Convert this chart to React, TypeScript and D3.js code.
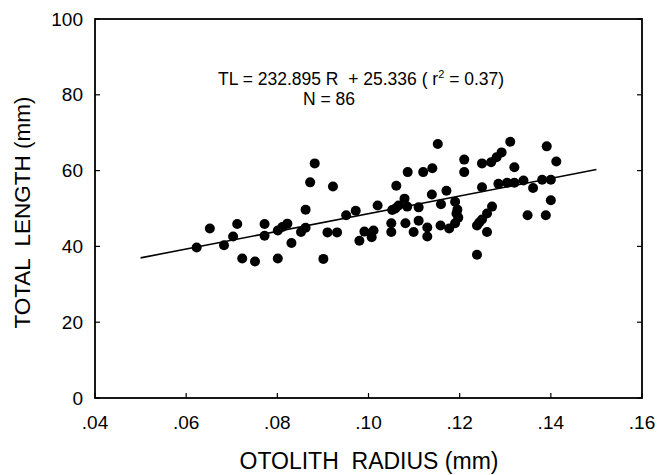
import React from "react";
import * as d3 from "d3";

// Otolith radius (mm) and total length (mm)
const radius = [
  0.0623, 0.0652, 0.0683, 0.0703, 0.0712, 0.0723, 0.0751, 0.0772, 0.0772, 0.0801,
  0.0801, 0.0811, 0.0822, 0.0831, 0.0852, 0.0862, 0.0862, 0.0872, 0.0882, 0.0901,
  0.0910, 0.0922, 0.0931, 0.0951, 0.0972, 0.0980, 0.0991, 0.1011, 0.1007, 0.1020,
  0.1052, 0.1066, 0.1061, 0.1050, 0.1050, 0.1079, 0.1085, 0.1086, 0.1110, 0.1081,
  0.1110, 0.1099, 0.1120, 0.1140, 0.1152, 0.1139, 0.1129, 0.1129, 0.1159, 0.1158,
  0.1171, 0.1190, 0.1195, 0.1197, 0.1190, 0.1177, 0.1210, 0.1210, 0.1238, 0.1238,
  0.1249, 0.1260, 0.1271, 0.1260, 0.1249, 0.1249, 0.1269, 0.1281, 0.1292, 0.1311,
  0.1320, 0.1285, 0.1304, 0.1320, 0.1340, 0.1361, 0.1381, 0.1400, 0.1391, 0.1412,
  0.1400, 0.1349, 0.1389, 0.1059, 0.1193, 0.1243,
];
const totalLength = [
  39.7, 44.7, 40.3, 42.6, 45.9, 36.8, 36.0, 42.8, 45.9, 36.8,
  44.2, 45.1, 46.0, 40.9, 43.8, 44.9, 49.7, 56.9, 61.9, 36.7,
  43.7, 55.8, 43.7, 48.2, 49.4, 41.5, 43.9, 44.2, 42.4, 50.8,
  49.6, 50.8, 56.0, 46.1, 43.8, 52.6, 50.5, 59.6, 50.3, 46.1,
  46.8, 43.8, 59.6, 60.6, 67.0, 53.7, 45.0, 42.6, 51.1, 45.5,
  54.7, 51.8, 49.7, 47.6, 46.1, 44.7, 62.9, 59.6, 37.8, 45.5,
  47.1, 48.7, 50.5, 43.8, 55.6, 61.9, 62.2, 63.5, 64.8, 67.6,
  60.9, 56.5, 56.8, 56.8, 57.4, 55.4, 57.6, 57.6, 66.4, 62.4,
  52.2, 48.2, 48.2, 50.0, 48.7, 46.3,
];

// Regression: TL = 232.895 R + 25.336
const slope = 232.895;
const intercept = 25.336;
const fitRange = [0.05, 0.15];

const xTicks = [0.04, 0.06, 0.08, 0.1, 0.12, 0.14, 0.16];
const xTickLabels = [".04", ".06", ".08", ".10", ".12", ".14", ".16"];
const yTicks = [0, 20, 40, 60, 80, 100];
const yTickLabels = ["0", "20", "40", "60", "80", "100"];

const FONT = "'Liberation Sans', Arial, Helvetica, sans-serif";

export default function App() {
  const W = 670;
  const H = 475;
  const left = 95, right = 642, top = 19, bottom = 398;
  const x = d3.scaleLinear().domain([0.04, 0.16]).range([left, right]);
  const y = d3.scaleLinear().domain([0, 100]).range([bottom, top]);

  const line = d3
    .line<number>()
    .x((r) => x(r))
    .y((r) => y(slope * r + intercept));

  const tick = 5;

  return (
    <svg
      width={W}
      height={H}
      style={{ position: "absolute", left: 0, top: 0, background: "#fff" }}
      fontFamily={FONT}
    >
      <rect x={0} y={0} width={W} height={H} fill="#fff" />
      {/* frame */}
      <rect
        x={left}
        y={top}
        width={right - left}
        height={bottom - top}
        fill="none"
        stroke="#000"
        strokeWidth={1.8}
      />
      {/* x ticks */}
      {xTicks.map((t, i) => (
        <g key={"x" + i}>
          <line x1={x(t)} x2={x(t)} y1={bottom} y2={bottom - tick} stroke="#000" strokeWidth={1.2} />
          <text x={x(t)} y={429} textAnchor="middle" fontSize={19} fill="#000">
            {xTickLabels[i]}
          </text>
        </g>
      ))}
      {/* y ticks */}
      {yTicks.map((t, i) => (
        <g key={"y" + i}>
          <line x1={left} x2={left + tick} y1={y(t)} y2={y(t)} stroke="#000" strokeWidth={1.2} />
          <line x1={right} x2={right - tick} y1={y(t)} y2={y(t)} stroke="#000" strokeWidth={1.2} />
          <text
            x={83}
            y={y(t)}
            textAnchor="end"
            dominantBaseline="central"
            fontSize={19}
            fill="#000"
          >
            {yTickLabels[i]}
          </text>
        </g>
      ))}
      {/* regression line */}
      <path d={line(fitRange) || ""} fill="none" stroke="#000" strokeWidth={1.6} />
      {/* points */}
      {radius.map((r, i) => (
        <circle key={i} cx={x(r)} cy={y(totalLength[i])} r={5} fill="#000" />
      ))}
      {/* annotation */}
      <text x={218} y={85} fontSize={17.5} fill="#000" xmlSpace="preserve">
        {"TL = 232.895 R  + 25.336 ( r"}
        <tspan fontSize={11} dy={-7}>2</tspan>
        <tspan dy={7}>{" = 0.37)"}</tspan>
      </text>
      <text x={303} y={105} fontSize={17.5} fill="#000">
        N = 86
      </text>
      {/* axis titles */}
      <text x={369} y={469} textAnchor="middle" fontSize={23} fill="#000" xmlSpace="preserve">
        {"OTOLITH  RADIUS (mm)"}
      </text>
      <text
        transform={`translate(30, ${(top + bottom) / 2 + 4}) rotate(-90)`}
        textAnchor="middle"
        fontSize={22.5}
        fill="#000"
        xmlSpace="preserve"
      >
        {"TOTAL  LENGTH (mm)"}
      </text>
    </svg>
  );
}
